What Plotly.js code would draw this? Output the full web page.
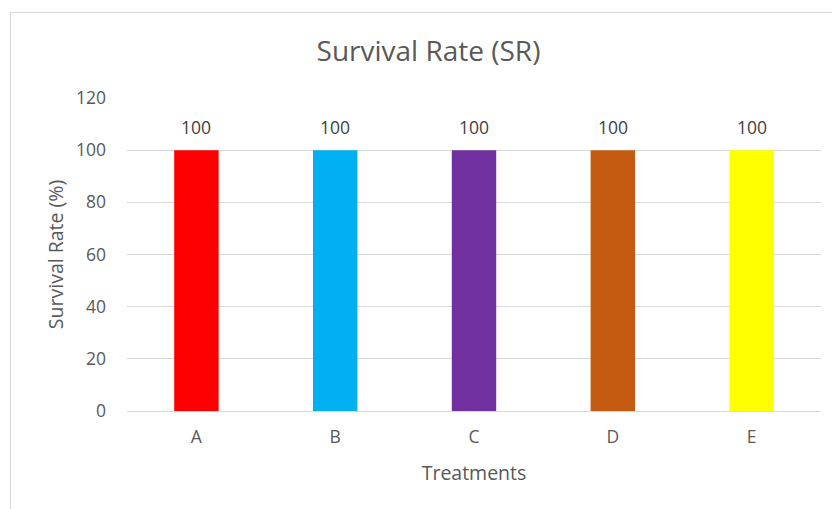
<!DOCTYPE html>
<html>
<head>
<meta charset="utf-8">
<script src="https://cdn.plot.ly/plotly-3.0.1.min.js"></script>
<style>
  html, body { margin: 0; padding: 0; background: #ffffff; }
  #wrap { position: relative; width: 832px; height: 509px; overflow: hidden; }
  #chart { position: absolute; left: 0; top: 0; width: 832px; height: 509px; }
  #frame { position: absolute; left: 10px; top: 12px; width: 900px; height: 600px;
           border-left: 1px solid #d9d9d9; border-top: 1px solid #d9d9d9; pointer-events: none; }
</style>
</head>
<body>
<div id="wrap">
  <div id="chart"></div>
  <div id="frame"></div>
</div>
<script>
const categories = ["A", "B", "C", "D", "E"];
const survivalRate = [100, 100, 100, 100, 100];
const barColors = ["#ff0000", "#00b0f0", "#7030a0", "#c55a11", "#ffff00"];
const yTicks = [0, 20, 40, 60, 80, 100, 120];

const FONT = "'Open Sans', Lato, sans-serif";

const trace = {
  type: "bar",
  x: categories,
  y: survivalRate,
  marker: { color: barColors, line: { width: 0 } },
  hoverinfo: "x+y"
};

const labels = categories.map((c, i) => ({
  x: c,
  y: survivalRate[i],
  xref: "x",
  yref: "y",
  text: String(survivalRate[i]),
  showarrow: false,
  yanchor: "bottom",
  yshift: 9,
  font: { family: FONT, size: 17.5, color: "#404040" }
}));

const layout = {
  width: 832,
  height: 509,
  margin: { l: 127, r: 11, t: 98, b: 98 },
  paper_bgcolor: "#ffffff",
  plot_bgcolor: "#ffffff",
  bargap: 0.68,
  showlegend: false,
  font: { family: FONT, color: "#595959" },
  title: {
    text: "Survival Rate (SR)",
    font: { family: FONT, size: 28, color: "#595959" },
    x: 0.515, xanchor: "center",
    y: 0.9, yanchor: "middle",
    yref: "container"
  },
  annotations: labels,
  xaxis: {
    type: "category",
    showgrid: false,
    showline: true,
    linecolor: "#d9d9d9",
    linewidth: 1,
    ticks: "",
    ticklabelstandoff: 10,
    tickfont: { family: FONT, size: 17.5, color: "#595959" },
    title: { text: "Treatments", font: { family: FONT, size: 19.5, color: "#595959" }, standoff: 19 }
  },
  yaxis: {
    range: [0, 120],
    tickvals: yTicks,
    showgrid: true,
    gridcolor: "#d9d9d9",
    gridwidth: 1,
    zeroline: false,
    showline: false,
    ticks: "",
    ticklabelstandoff: 20,
    tickfont: { family: FONT, size: 17.5, color: "#595959" },
    title: { text: "Survival Rate (%)", font: { family: FONT, size: 19.5, color: "#595959" }, standoff: 7 }
  }
};

Plotly.newPlot("chart", [trace], layout, { displayModeBar: false, staticPlot: true });
</script>
</body>
</html>
